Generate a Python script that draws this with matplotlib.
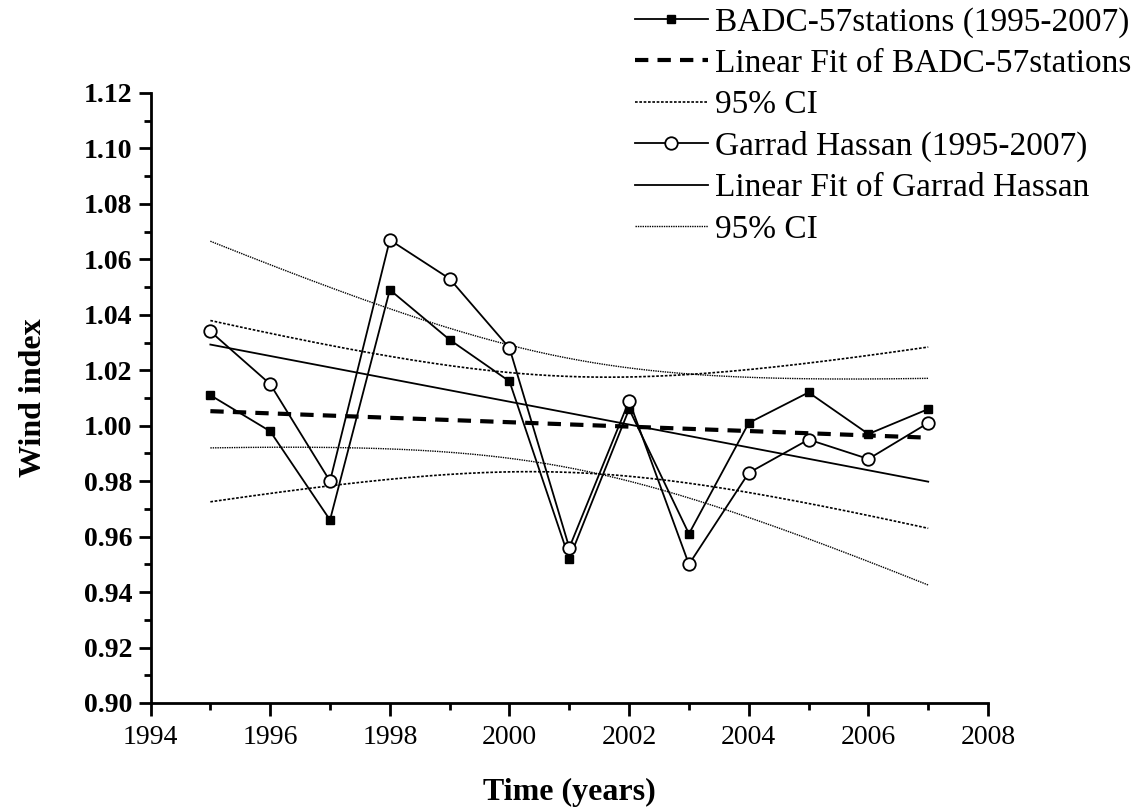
import numpy as np
import matplotlib
matplotlib.use("Agg")
import matplotlib.pyplot as plt
from matplotlib.ticker import MultipleLocator, FormatStrFormatter

# values
years = np.arange(1995, 2008)
badc = [1.011, 0.998, 0.966, 1.049, 1.031, 1.016, 0.952, 1.006,
        0.961, 1.001, 1.012, 0.997, 1.006]
garrad = [1.034, 1.015, 0.980, 1.067, 1.053, 1.028, 0.956, 1.009,
          0.950, 0.983, 0.995, 0.988, 1.001]

T_975_DOF11 = 2.201  # two sided 95% t value for n-2 = 11


def linear_fit_ci(x, y, xs):
    """Least squares line and 95% confidence band of the mean."""
    x = np.asarray(x, float)
    y = np.asarray(y, float)
    slope, icpt = np.polyfit(x, y, 1)
    resid = y - (slope * x + icpt)
    s = np.sqrt(np.sum(resid ** 2) / (len(x) - 2))
    sxx = np.sum((x - x.mean()) ** 2)
    fit = slope * xs + icpt
    half = T_975_DOF11 * s * np.sqrt(1.0 / len(x) + (xs - x.mean()) ** 2 / sxx)
    return fit, fit - half, fit + half


plt.rcParams['font.family'] = ['Liberation Serif', 'DejaVu Serif']

fig = plt.figure(figsize=(11.37, 8.07), dpi=100)
ax = fig.add_axes([0.1324, 0.1289, 0.7366, 0.7559])

xs = np.linspace(years[0], years[-1], 200)
b_fit, b_lo, b_hi = linear_fit_ci(years, badc, xs)
g_fit, g_lo, g_hi = linear_fit_ci(years, garrad, xs)

h1, = ax.plot(years, badc, color='black', lw=1.3, marker='s', ms=6,
              mfc='black', mec='black', zorder=4)
h2, = ax.plot(xs, b_fit, color='black', lw=3, ls=(0, (3.2, 2.2)), zorder=3)
h3, = ax.plot(xs, b_lo, color='black', lw=1.2, ls=(0, (1.6, 1.0)), zorder=2)
ax.plot(xs, b_hi, color='black', lw=1.2, ls=(0, (1.6, 1.0)), zorder=2)
h4, = ax.plot(years, garrad, color='black', lw=1.3, marker='o', ms=9,
              mfc='white', mec='black', mew=1.3, zorder=5)
h5, = ax.plot(xs, g_fit, color='black', lw=1.3, zorder=3)
h6, = ax.plot(xs, g_lo, color='black', lw=1.0, ls=(0, (1, 0.7)), zorder=2)
ax.plot(xs, g_hi, color='black', lw=1.0, ls=(0, (1, 0.7)), zorder=2)

ax.set_xlim(1994, 2008)
ax.set_ylim(0.90, 1.12)
ax.xaxis.set_major_locator(MultipleLocator(2))
ax.xaxis.set_minor_locator(MultipleLocator(1))
ax.yaxis.set_major_locator(MultipleLocator(0.02))
ax.yaxis.set_minor_locator(MultipleLocator(0.01))
ax.yaxis.set_major_formatter(FormatStrFormatter('%.2f'))

for side in ('top', 'right'):
    ax.spines[side].set_visible(False)
for side in ('left', 'bottom'):
    ax.spines[side].set_linewidth(2)

ax.tick_params(which='major', direction='out', length=9, width=2)
ax.tick_params(which='minor', direction='out', length=5, width=2)
ax.tick_params(axis='x', labelsize=20, pad=7)
ax.tick_params(axis='y', labelsize=20, pad=4)
for lab in ax.get_yticklabels():
    lab.set_fontweight('bold')

ax.set_xlabel('Time (years)', fontsize=23, fontweight='bold', labelpad=20)
ax.set_ylabel('Wind index', fontsize=23, fontweight='bold', labelpad=26)

fig.legend([h1, h2, h3, h4, h5, h6],
           ['BADC-57stations (1995-2007)', 'Linear Fit of BADC-57stations',
            '95% CI', 'Garrad Hassan (1995-2007)',
            'Linear Fit of Garrad Hassan', '95% CI'],
           loc='upper right', bbox_to_anchor=(1.016, 1.02), frameon=False,
           fontsize=24, handlelength=2.2, handletextpad=0.22,
           labelspacing=0.32, borderpad=0.2)

fig.savefig('out.png', dpi=100)
